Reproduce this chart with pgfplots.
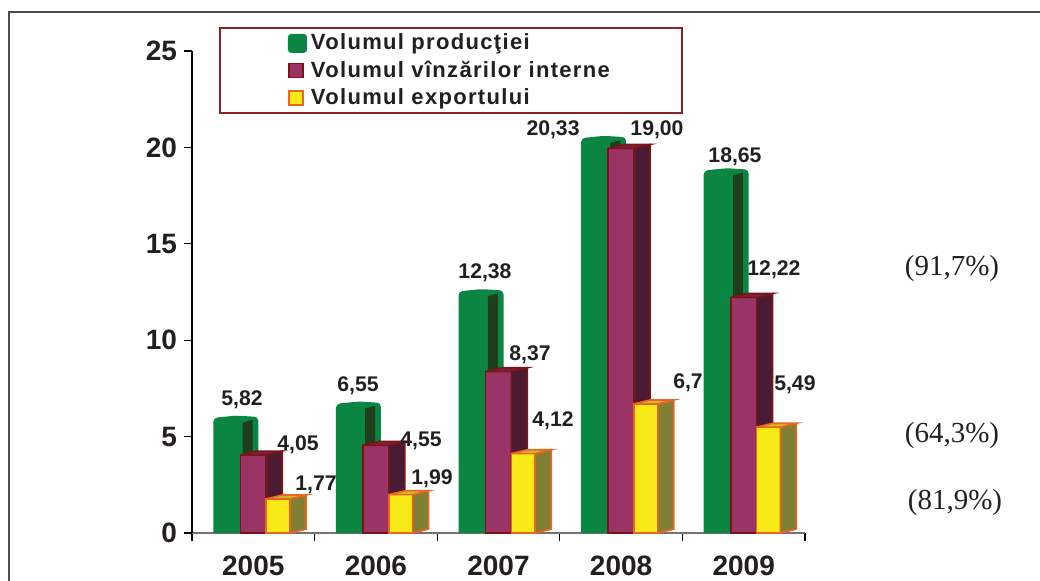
\documentclass[border=0pt]{standalone}
\usepackage{pgfplots}
\pgfplotsset{compat=1.18}
\usepackage{fontspec}
\setmainfont{Liberation Sans}
\newfontfamily\serif{Liberation Serif}
\newfontfamily\legfont[LetterSpace=6]{Liberation Sans}

\definecolor{mgreen}{RGB}{10,133,66}
\definecolor{mgreendark}{RGB}{30,62,30}
\definecolor{mmaroon}{RGB}{155,52,102}
\definecolor{mmaroonside}{RGB}{75,27,52}
\definecolor{mmaroontop}{RGB}{120,35,70}
\definecolor{mred}{RGB}{125,20,20}
\definecolor{myellow}{RGB}{248,234,22}
\definecolor{myellowside}{RGB}{128,128,52}
\definecolor{myellowtop}{RGB}{200,190,40}
\definecolor{morange}{RGB}{240,100,35}
\definecolor{legred}{RGB}{140,35,35}
\definecolor{darktext}{RGB}{35,31,32}

\tikzset{vlabel/.style={font=\fontsize{10.6}{12}\selectfont\bfseries, text=darktext, inner sep=0pt}}

\begin{document}
\begin{tikzpicture}
\useasboundingbox (0,0) rectangle (520pt,290pt);
% frame, cut by the page edge
\draw[black!70, line width=1pt] (4.5pt,-10pt) -- (4.5pt,284pt) -- (530pt,284pt);

\begin{axis}[
    scale only axis,
    width=306.5pt, height=241pt,
    at={(96pt,23.5pt)}, anchor=south west,
    xmin=-0.5, xmax=4.5, ymin=0, ymax=25,
    axis x line*=bottom, axis y line*=left,
    x axis line style={black!55, line width=1.2pt},
    y axis line style={black, line width=0.6pt},
    xtick={0,...,4},
    xticklabels={2005,2006,2007,2008,2009},
    minor xtick={-0.5,0.5,1.5,2.5,3.5,4.5},
    ytick={0,5,...,25},
    tick align=outside,
    major tick length=4pt, minor tick length=4pt,
    major x tick style={draw=none},
    tick style={black, line width=0.6pt},
    ticklabel style={font=\fontsize{14}{16}\selectfont\bfseries, text=darktext},
    xticklabel style={yshift=-4pt},
    /pgf/number format/assume math mode=true,
    unbounded coords=jump,
    clip=false,
    legend style={at={(0.044,1.05)}, anchor=north west, draw=legred, line width=1pt,
      inner xsep=34pt, inner ysep=1pt, fill=white,
      font=\legfont\fontsize{11}{13}\selectfont\bfseries, text=darktext,
      nodes={inner sep=2pt}},
    legend cell align=left,
]

% Volumul productiei (cylinder)
\addplot[fill=mgreen, draw=none, rounded corners=2pt,
    legend image code/.code={\fill[mgreen, rounded corners=1.5pt] (0pt,-4.7pt) rectangle (9.5pt,4.7pt);}]
  coordinates {
    (-0.326,0) (-0.326,5.97) (-0.14,6.09) (0.041,6.02) (0.041,0) (0,nan)
    (0.674,0) (0.674,6.70) (0.86,6.82) (1.041,6.75) (1.041,0) (1,nan)
    (1.674,0) (1.674,12.53) (1.86,12.65) (2.041,12.58) (2.041,0) (2,nan)
    (2.674,0) (2.674,20.48) (2.86,20.60) (3.041,20.53) (3.041,0) (3,nan)
    (3.674,0) (3.674,18.80) (3.86,18.92) (4.041,18.85) (4.041,0)
  };
\addlegendentry{Volumul producţiei}

% inner dark stripe of the cylinder
\addplot[fill=mgreendark, draw=none, forget plot] coordinates {
    (-0.087,0) (-0.087,5.72) (-0.006,5.87) (-0.006,0) (0,nan)
    (0.913,0) (0.913,6.45) (0.994,6.60) (0.994,0) (1,nan)
    (1.913,0) (1.913,12.28) (1.994,12.43) (1.994,0) (2,nan)
    (2.913,0) (2.913,20.23) (2.994,20.38) (2.994,0) (3,nan)
    (3.913,0) (3.913,18.55) (3.994,18.70) (3.994,0)
  };

% Volumul vinzarilor interne
\addplot[ybar, bar width=0.212, fill=mmaroon, draw=mred, line width=0.8pt,
    legend image code/.code={\filldraw[fill=mmaroon, draw=mred, line width=0.8pt] (0.5pt,-3.5pt) rectangle (7.5pt,3.5pt);}]
  coordinates {(0,4.05) (1,4.55) (2,8.37) (3,19.95) (4,12.22)};
\addlegendentry{Volumul vînzărilor interne}

\addplot[fill=mmaroonside, draw=mred, line width=0.8pt, forget plot] coordinates {
    (0.106,0) (0.236,0.2) (0.236,4.25) (0.106,4.05) (0.106,0) (0,nan)
    (1.106,0) (1.236,0.2) (1.236,4.75) (1.106,4.55) (1.106,0) (1,nan)
    (2.106,0) (2.236,0.2) (2.236,8.57) (2.106,8.37) (2.106,0) (2,nan)
    (3.106,0) (3.236,0.2) (3.236,20.15) (3.106,19.95) (3.106,0) (3,nan)
    (4.106,0) (4.236,0.2) (4.236,12.42) (4.106,12.22) (4.106,0)
  };
\addplot[fill=mmaroontop, draw=mred, line width=0.8pt, forget plot] coordinates {
    (-0.106,4.05) (0.106,4.05) (0.236,4.25) (0.024,4.25) (-0.106,4.05) (0,nan)
    (0.894,4.55) (1.106,4.55) (1.236,4.75) (1.024,4.75) (0.894,4.55) (1,nan)
    (1.894,8.37) (2.106,8.37) (2.236,8.57) (2.024,8.57) (1.894,8.37) (2,nan)
    (2.894,19.95) (3.106,19.95) (3.236,20.15) (3.024,20.15) (2.894,19.95) (3,nan)
    (3.894,12.22) (4.106,12.22) (4.236,12.42) (4.024,12.42) (3.894,12.22)
  };

% Volumul exportului
\addplot[ybar, bar width=0.194, fill=myellow, draw=morange, line width=0.8pt,
    legend image code/.code={\filldraw[fill=myellow, draw=morange, line width=0.8pt] (0.5pt,-3.5pt) rectangle (7.5pt,3.5pt);}]
  coordinates {(0.203,1.77) (1.203,1.99) (2.203,4.12) (3.203,6.7) (4.203,5.49)};
\addlegendentry{Volumul exportului}

\addplot[fill=myellowside, draw=morange, line width=0.8pt, forget plot] coordinates {
    (0.30,0) (0.43,0.2) (0.43,1.97) (0.30,1.77) (0.30,0) (0,nan)
    (1.30,0) (1.43,0.2) (1.43,2.19) (1.30,1.99) (1.30,0) (1,nan)
    (2.30,0) (2.43,0.2) (2.43,4.32) (2.30,4.12) (2.30,0) (2,nan)
    (3.30,0) (3.43,0.2) (3.43,6.90) (3.30,6.70) (3.30,0) (3,nan)
    (4.30,0) (4.43,0.2) (4.43,5.69) (4.30,5.49) (4.30,0)
  };
\addplot[fill=myellowtop, draw=morange, line width=0.8pt, forget plot] coordinates {
    (0.106,1.77) (0.30,1.77) (0.43,1.97) (0.236,1.97) (0.106,1.77) (0,nan)
    (1.106,1.99) (1.30,1.99) (1.43,2.19) (1.236,2.19) (1.106,1.99) (1,nan)
    (2.106,4.12) (2.30,4.12) (2.43,4.32) (2.236,4.32) (2.106,4.12) (2,nan)
    (3.106,6.70) (3.30,6.70) (3.43,6.90) (3.236,6.90) (3.106,6.70) (3,nan)
    (4.106,5.49) (4.30,5.49) (4.43,5.69) (4.236,5.69) (4.106,5.49)
  };

% value labels
\node[vlabel] at (axis cs:-0.092,6.90) {5,82};
\node[vlabel] at (axis cs:0.365,4.56) {4,05};
\node[vlabel] at (axis cs:0.511,2.49) {1,77};
\node[vlabel] at (axis cs:0.854,7.62) {6,55};
\node[vlabel] at (axis cs:1.368,4.77) {4,55};
\node[vlabel] at (axis cs:1.458,2.80) {1,99};
\node[vlabel] at (axis cs:1.890,13.49) {12,38};
\node[vlabel] at (axis cs:2.257,9.23) {8,37};
\node[vlabel] at (axis cs:2.445,5.81) {4,12};
\node[vlabel] at (axis cs:2.445,20.90) {20,33};
\node[vlabel] at (axis cs:3.293,20.90) {19,00};
\node[vlabel] at (axis cs:3.546,7.78) {6,7};
\node[vlabel] at (axis cs:3.929,19.50) {18,65};
\node[vlabel] at (axis cs:4.247,13.64) {12,22};
\node[vlabel] at (axis cs:4.418,7.68) {5,49};
\end{axis}

\begin{scope}[every node/.style={font=\serif\fontsize{14.5}{16}\selectfont, text=darktext}]
\node at (476pt,155.5pt) {(91,7\%)};
\node at (476pt,72pt) {(64,3\%)};
\node at (477.5pt,38.5pt) {(81,9\%)};
\end{scope}
\end{tikzpicture}
\end{document}
